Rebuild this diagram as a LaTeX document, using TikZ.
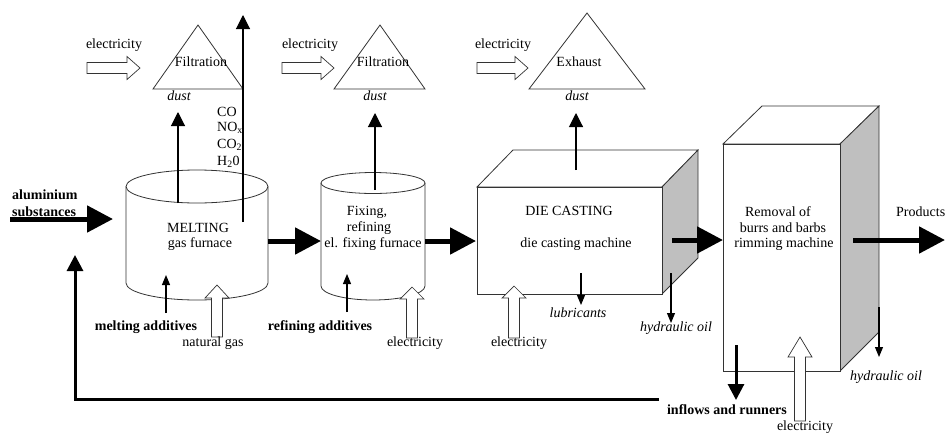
\documentclass[tikz,border=0pt]{standalone}
\usepackage{fontspec}
\setmainfont{Liberation Serif}
\usetikzlibrary{arrows.meta}
\newcommand\hollowright[3]{% x1, x2 (tip), y
  \draw[hollow] (#1,#3-5.5) -- (#2-13,#3-5.5) -- (#2-13,#3-11.5) -- (#2,#3)
    -- (#2-13,#3+11.5) -- (#2-13,#3+5.5) -- (#1,#3+5.5) -- cycle;}
\newcommand\hollowup[4]{% x, ybottom, ytip, head length
  \draw[hollow] (#1-5.5,#2) -- (#1-5.5,#3+#4) -- (#1-12,#3+#4) -- (#1,#3)
    -- (#1+12,#3+#4) -- (#1+5.5,#3+#4) -- (#1+5.5,#2) -- cycle;}
\newcommand\mycylinder[6]{% cx, rx, ytop, rytop, ybot, rybot
  \draw[shp] (#1-#2,#3) -- (#1-#2,#5)
    arc[start angle=180, end angle=0, x radius=#2, y radius=#6] -- (#1+#2,#3);
  \draw[shp] (#1,#3) ellipse[x radius=#2, y radius=#4];}
\begin{document}
\begin{tikzpicture}[x=1pt,y=-1pt,
  font=\fontsize{14}{16}\selectfont,
  shp/.style={draw=black!80, line width=0.8pt, fill=white},
  side/.style={draw=black!80, line width=0.8pt, fill=black!25},
  hollow/.style={draw=black!80, line width=0.7pt, fill=white},
  txt/.style={inner sep=0pt},
  bl/.style={inner sep=0pt, font=\fontsize{14}{16}\selectfont\bfseries},
  it/.style={inner sep=0pt, font=\fontsize{14}{16}\selectfont\itshape},
  thin/.style={line width=1.1pt, -{Triangle[length=10pt,width=8pt]}},
  dustarr/.style={line width=1.1pt, -{Triangle[length=14pt,width=14pt]}},
  big/.style={line width=5pt, -{Triangle[length=26pt,width=26pt]}},
  ret/.style={line width=3pt, -{Triangle[length=16pt,width=16pt]}}]
\useasboundingbox (0,0) rectangle (945,432);

% ---------- triangles (filters) ----------
\draw[shp] (153,89) -- (198,25) -- (243,89) -- cycle;
\draw[shp] (334,89) -- (380,25) -- (425,89) -- cycle;
\draw[shp] (529,89) -- (587,13) -- (645,89) -- cycle;
\node[txt] (filt1) at (201,62) {Filtration};
\node[txt] (filt2) at (383,62) {Filtration};
\node[txt] (exh) at (579,62) {Exhaust};
\node[it] (dust1) at (179,96) {dust};
\node[it] (dust2) at (375,96) {dust};
\node[it] (dust3) at (577,96) {dust};

% electricity inputs to filters
\node[txt] (el1) at (114,45) {electricity};
\node[txt] (el2) at (310,45) {electricity};
\node[txt] (el3) at (503,45) {electricity};
\hollowright{87}{140}{68}
\hollowright{282}{334}{68}
\hollowright{477}{528}{68}

% ---------- cylinders ----------
\mycylinder{197}{71}{186.5}{16.5}{283}{17}
\mycylinder{373}{52}{183}{10.5}{286}{14}
\node[txt] (melt) at (198,228) {MELTING};
\node[txt] (gasf) at (200,244) {gas furnace};
\node[txt] (fix1) at (367,212) {Fixing,};
\node[txt] (fix2) at (369,228) {refining};
\node[txt] (fix3) at (373,244) {el. fixing furnace};

% ---------- die casting box ----------
\draw[shp] (477,187) -- (513,150) -- (698,150) -- (662,187) -- cycle;
\draw[side] (662,187) -- (698,150) -- (698,258) -- (662,294) -- cycle;
\draw[shp] (477,187) rectangle (662,294);
\node[txt] (dc1) at (569,211) {DIE CASTING};
\node[txt] (dc2) at (576,244) {die casting machine};

% ---------- rimming box ----------
\draw[shp] (723,144) -- (762,106) -- (879,106) -- (840,144) -- cycle;
\draw[side] (840,144) -- (879,106) -- (879,332) -- (840,371) -- cycle;
\draw[shp] (723,144) rectangle (840,371);
\node[txt] (rm1) at (778,212) {Removal of};
\node[txt] (rm2) at (783,228) {burrs and barbs};
\node[txt] (rm3) at (784,244) {rimming machine};

% ---------- emissions from melting ----------
\coordinate (d1s) at (178,203);
\coordinate (d1e) at (178,112);
\draw[dustarr] (d1s) -- (d1e);
\coordinate (gs) at (243,222);
\coordinate (ge) at (243,15);
\draw[dustarr] (gs) -- (ge);
\node[txt, anchor=west] (co) at (217,112) {CO};
\node[txt, anchor=west] (nox) at (217,128) {NO\textsubscript{x}};
\node[txt, anchor=west] (co2) at (217,145) {CO\textsubscript{2}};
\node[txt, anchor=west] (h2o) at (217,162) {H\textsubscript{2}0};

\coordinate (d2s) at (375,190);
\coordinate (d2e) at (375,113);
\draw[dustarr] (d2s) -- (d2e);
\coordinate (d3s) at (576,170);
\coordinate (d3e) at (576,113);
\draw[dustarr] (d3s) -- (d3e);

% ---------- main flow ----------
\node[bl, anchor=west] (al1) at (12,195) {aluminium};
\node[bl, anchor=west] (al2) at (12,212) {substances};
\coordinate (a0) at (10,219);
\coordinate (a1) at (113,219);
\draw[big] (a0) -- (a1);
\coordinate (b0) at (268,241);
\coordinate (b1) at (321,241);
\draw[big] (b0) -- (b1);
\coordinate (c0) at (425,241);
\coordinate (c1) at (476,241);
\draw[big] (c0) -- (c1);
\coordinate (e0) at (672,240);
\coordinate (e1) at (723,240);
\draw[big] (e0) -- (e1);
\coordinate (p0) at (853,240);
\coordinate (p1) at (945,240);
\draw[big] (p0) -- (p1);
\node[txt, anchor=west] (prod) at (896,212) {Products};

% ---------- melting inputs ----------
\coordinate (ma0) at (166,313);
\coordinate (ma1) at (166,275);
\draw[thin] (ma0) -- (ma1);
\node[bl] (madd) at (146,327) {melting additives};
\hollowup{217}{337}{285}{13}
\node[txt] (ng) at (213,343) {natural gas};

\coordinate (ra0) at (347,312);
\coordinate (ra1) at (347,274);
\draw[thin] (ra0) -- (ra1);
\node[bl] (radd) at (320,327) {refining additives};
\hollowup{412}{338}{287}{12}
\node[txt] (el4) at (415,343) {electricity};

% ---------- die casting i/o ----------
\hollowup{514}{338}{286}{12}
\node[txt] (el5) at (519,343) {electricity};
\coordinate (lu0) at (581,273);
\coordinate (lu1) at (581,305);
\draw[thin] (lu0) -- (lu1);
\node[it] (lub) at (578,313) {lubricants};
\coordinate (h0) at (671,273);
\coordinate (h1) at (671,323);
\draw[thin] (h0) -- (h1);
\node[it] (hyd1) at (676,328) {hydraulic oil};

% ---------- rimming i/o ----------
\coordinate (h2a) at (879,307);
\coordinate (h2b) at (879,357);
\draw[thin] (h2a) -- (h2b);
\node[it] (hyd2) at (886,377) {hydraulic oil};
\coordinate (in0) at (736,345);
\coordinate (in1) at (736,400);
\draw[ret] (in0) -- (in1);
\node[bl] (infl) at (727,410) {inflows and runners};
\hollowup{800}{421}{337}{20}
\node[txt] (el6) at (805,427) {electricity};

% ---------- return loop ----------
\coordinate (r0) at (659,399);
\coordinate (r1) at (75,399);
\coordinate (r2) at (75,255);
\draw[ret] (r0) -- (r1) -- (r2);
\end{tikzpicture}
\end{document}
